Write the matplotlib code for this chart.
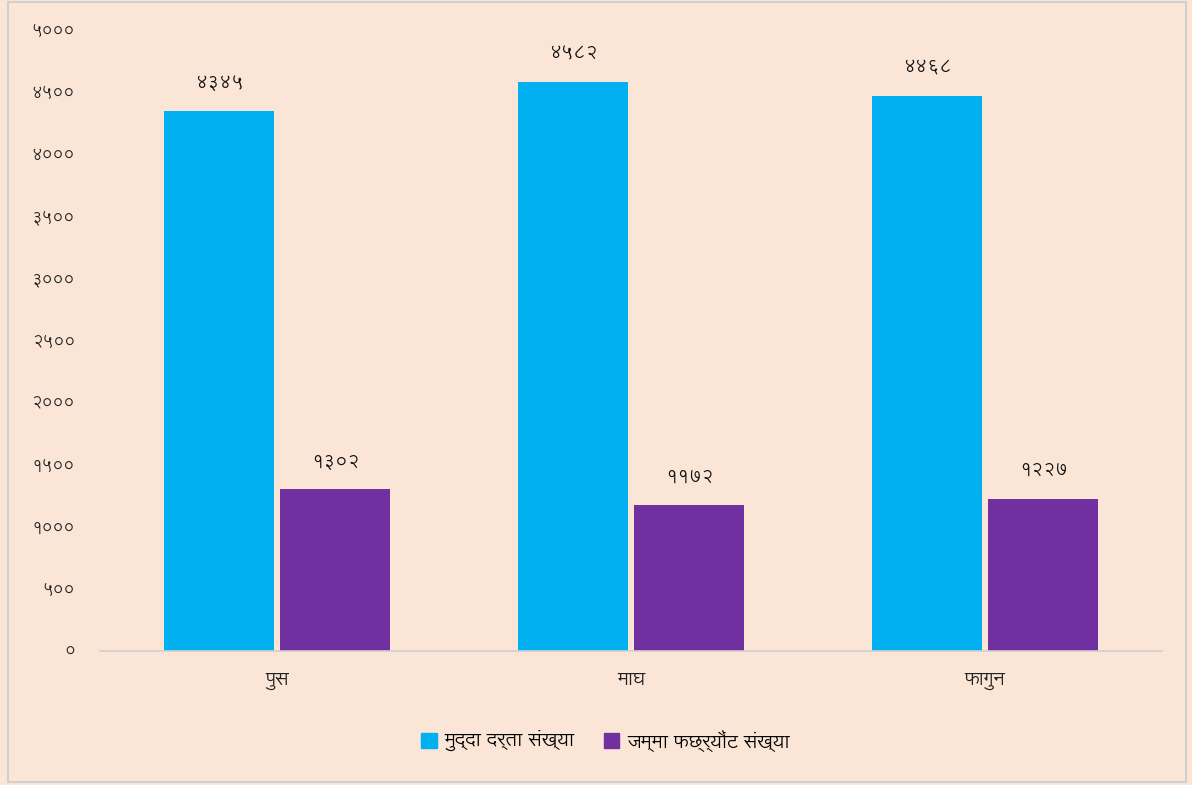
import matplotlib
matplotlib.use("Agg")
import matplotlib.pyplot as plt
from matplotlib.patches import Rectangle, Patch
import numpy as np

categories = ["पुस", "माघ", "फागुन"]
series_names = ["मुद्दा दर्ता संख्या", "जम्मा फछ्र्यौंट संख्या"]
registered = [4345, 4582, 4468]
settled = [1302, 1172, 1227]
yticks = [0, 500, 1000, 1500, 2000, 2500, 3000, 3500, 4000, 4500, 5000]
colors = ["#00B0F0", "#7030A0"]

DEV_DIGITS = "०१२३४५६७८९"
def to_dev(n):
    return "".join(DEV_DIGITS[int(c)] for c in str(n))

plt.rcParams['font.family'] = ['Lohit Devanagari', 'Noto Sans Devanagari', 'FreeSans', 'DejaVu Sans']

bg = "#FBE5D6"
fig = plt.figure(figsize=(11.92, 7.85), dpi=100, facecolor=bg)
ax = fig.add_axes([0.0839, 0.1707, 0.8911, 0.7911])
ax.set_facecolor(bg)

x = np.arange(len(categories))
w = 0.311
off = 0.164
b1 = ax.bar(x - off, registered, w, color=colors[0], label=series_names[0])
b2 = ax.bar(x + off, settled, w, color=colors[1], label=series_names[1])

for bars, vals in ((b1, registered), (b2, settled)):
    for r, v in zip(bars, vals):
        ax.annotate(to_dev(v), (r.get_x() + r.get_width() / 2, v),
                    xytext=(0, 14), textcoords="offset points",
                    ha="center", va="bottom", fontsize=13.5, color="#111111")

ax.set_xlim(-0.5, 2.5)
ax.set_ylim(0, 5000)
ax.set_yticks(yticks)
ax.set_yticklabels([to_dev(t) for t in yticks], fontsize=12, color="#222222")
ax.set_xticks(x)
ax.set_xticklabels(categories, fontsize=14, color="#222222")
ax.tick_params(axis='y', length=0, pad=18)
ax.tick_params(axis='x', length=0, pad=14)
for s in ("top", "right", "left"):
    ax.spines[s].set_visible(False)
ax.spines["bottom"].set_color("#D0D0D0")
ax.spines["bottom"].set_linewidth(1.2)

handles = [Patch(color=colors[0]), Patch(color=colors[1])]
fig.legend(handles, series_names, loc="center", bbox_to_anchor=(0.508, 0.056),
           ncol=2, frameon=False, fontsize=14, handlelength=0.8, handleheight=0.8,
           columnspacing=1.5, handletextpad=0.4)

fig.patches.append(Rectangle((0.007, 0.004), 0.988, 0.993, transform=fig.transFigure,
                             fill=False, edgecolor="#D0D0D0", linewidth=1.5))

fig.savefig("out.png", dpi=100, facecolor=bg)
